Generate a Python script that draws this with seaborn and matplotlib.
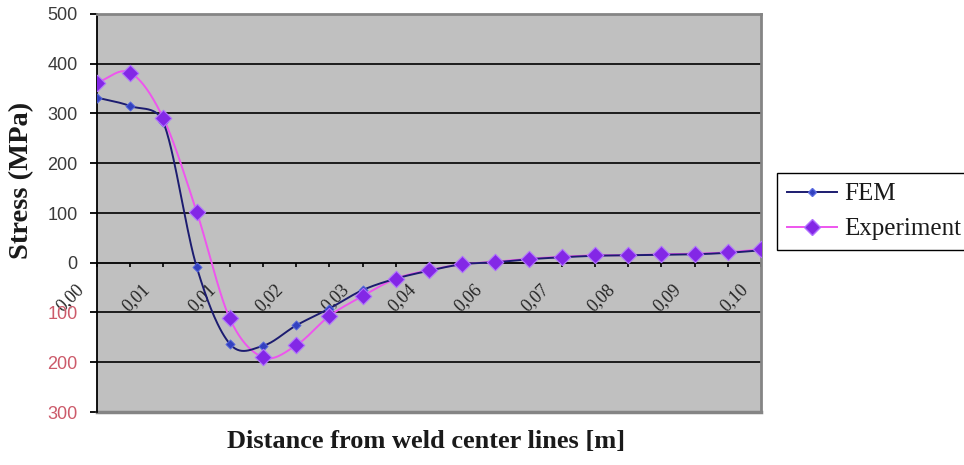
import numpy as np
import pandas as pd
import matplotlib
matplotlib.use("Agg")
import matplotlib.pyplot as plt
import matplotlib.transforms as mtransforms
from matplotlib.lines import Line2D
import seaborn as sns

# Measurement stations along the plate (category positions) and their labels
positions = list(range(21))
tick_labels = ["0,00", "0,01", "0,01", "0,02", "0,03", "0,04",
               "0,06", "0,07", "0,08", "0,09", "0,10"]

# Residual stress (MPa) at each station
fem = [332, 315, 282, -8, -163, -167, -126, -92, -55, -32, -16,
       -3, 1, 7, 11, 14, 15, 16, 17, 20, 25]
experiment = [362, 382, 290, 103, -112, -190, -166, -107, -67, -32, -15,
              -3, 2, 8, 12, 15, 15, 17, 18, 21, 27]

y_ticks = [-300, -200, -100, 0, 100, 200, 300, 400, 500]

# screen scale used for the smoothing (pixels per unit on each axis)
PX_X = 664 / 20
PX_Y = 398 / 800


def smooth(xs, ys, n=30):
    """Bezier smoothing through every point; control arms are capped at
    half the segment length so steep neighbours do not cause overshoot."""
    P = np.column_stack([np.asarray(xs, float) * PX_X, np.asarray(ys, float) * PX_Y])
    m = len(P)
    t = np.linspace(0, 1, n, endpoint=False)
    out = []
    for i in range(m - 1):
        p0, p3 = P[i], P[i + 1]
        d = np.linalg.norm(p3 - p0)
        if i == 0:
            a = (p3 - p0) / 3
        else:
            a = (P[i + 1] - P[i - 1]) / 6
        if i == m - 2:
            b = (p3 - p0) / 3
        else:
            b = (P[i + 2] - P[i]) / 6
        for v in (a, b):
            ln = np.linalg.norm(v)
            if ln > d / 2:
                v *= (d / 2) / ln
        p1 = p0 + a
        p2 = p3 - b
        seg = ((1 - t) ** 3)[:, None] * p0 + (3 * (1 - t) ** 2 * t)[:, None] * p1 \
            + (3 * (1 - t) * t ** 2)[:, None] * p2 + (t ** 3)[:, None] * p3
        out.append(seg)
    out.append(P[-1][None, :])
    out = np.vstack(out)
    return out[:, 0] / PX_X, out[:, 1] / PX_Y


points = pd.DataFrame({"pos": positions, "FEM": fem, "Experiment": experiment})

fem_color_line = "#1c1c70"
fem_color_mark = "#3341c0"
exp_color_line = "#ee55ee"
exp_color_mark = "#8327e6"

fig = plt.figure(figsize=(9.64, 4.65), dpi=100)
ax = fig.add_axes([97 / 964, 53 / 465, 664 / 964, 398 / 465])
ax.set_facecolor("#c0c0c0")

# horizontal gridlines
for v in y_ticks[1:-1]:
    if v != 0:
        ax.axhline(v, color="black", lw=1.2, zorder=1)

sx, sy = smooth(points["pos"], points["Experiment"])
sns.lineplot(x=sx, y=sy, sort=False, ax=ax, color=exp_color_line, lw=1.4, zorder=3)
sx, sy = smooth(points["pos"], points["FEM"])
sns.lineplot(x=sx, y=sy, sort=False, ax=ax, color=fem_color_line, lw=1.4, zorder=4)

sns.scatterplot(data=points, x="pos", y="FEM", ax=ax, marker="D", s=22,
                color=fem_color_mark, edgecolor="#5a6ae0", linewidth=0.6, zorder=5)
sns.scatterplot(data=points, x="pos", y="Experiment", ax=ax, marker="D", s=70,
                color=exp_color_mark, edgecolor="#b070ff", linewidth=0.8, zorder=6)

ax.set_xlim(0, 20)
ax.set_ylim(-300, 500)
ax.set_xlabel("")
ax.set_ylabel("")

# category axis crossing at zero
ax.spines["bottom"].set_position(("data", 0))
ax.spines["bottom"].set_color("black")
ax.spines["bottom"].set_linewidth(1.3)
ax.spines["bottom"].set_zorder(2)
ax.spines["left"].set_color("black")
ax.spines["left"].set_linewidth(1.3)
for side in ("top", "right"):
    ax.spines[side].set_color("#858585")
    ax.spines[side].set_linewidth(2)
ax.axhline(-300, color="#858585", lw=2.5, zorder=2, clip_on=False)

ax.set_xticks(positions)
xlabels = [tick_labels[i // 2] if i % 2 == 0 else "" for i in positions]
ax.set_xticklabels(xlabels, rotation=45, ha="right", va="top",
                   fontfamily="Liberation Serif", fontsize=13, color="#252525")
ax.tick_params(axis="x", direction="out", length=3, width=1.2, color="black", pad=10)
shift = mtransforms.ScaledTranslation(-10 / 100, 0, fig.dpi_scale_trans)
for lab in ax.get_xticklabels():
    lab.set_transform(lab.get_transform() + shift)

ax.set_yticks(y_ticks)
ax.set_yticklabels([str(abs(v)) for v in y_ticks], fontfamily="Liberation Sans",
                   fontsize=13, color="#3a3a3a")
for v, lab in zip(y_ticks, ax.get_yticklabels()):
    if v < 0:
        lab.set_color("#cc5a6a")
ax.tick_params(axis="y", direction="out", length=5, width=1.3, color="black", pad=9)

fig.text(22 / 964, 1 - 180 / 465, "Stress (MPa)", rotation=90, ha="center", va="center",
         fontfamily="Liberation Serif", fontweight="bold", fontsize=20.5, color="#1a1a1a")
fig.text(426 / 964, 1 - 441 / 465, "Distance from weld center lines [m]",
         ha="center", va="center", fontfamily="Liberation Serif", fontweight="bold",
         fontsize=19, color="#1a1a1a")

handles = [
    Line2D([], [], color=fem_color_line, lw=1.4, marker="D", markersize=4,
           markerfacecolor=fem_color_mark, markeredgecolor="#5a6ae0"),
    Line2D([], [], color=exp_color_line, lw=1.4, marker="D", markersize=8,
           markerfacecolor=exp_color_mark, markeredgecolor="#b070ff"),
]
leg = ax.legend(handles, ["FEM", "Experiment"], loc="center left",
                bbox_to_anchor=(777 / 964, 1 - 211.5 / 465), bbox_transform=fig.transFigure,
                frameon=True, fancybox=False, edgecolor="black", framealpha=1,
                prop={"family": "Liberation Serif", "size": 18},
                handlelength=2.0, handletextpad=0.3, labelspacing=0.5,
                borderpad=0.4, borderaxespad=0)
leg.get_frame().set_linewidth(1.0)
for t in leg.get_texts():
    t.set_color("#1a1a1a")

fig.savefig("out.png", dpi=100)
